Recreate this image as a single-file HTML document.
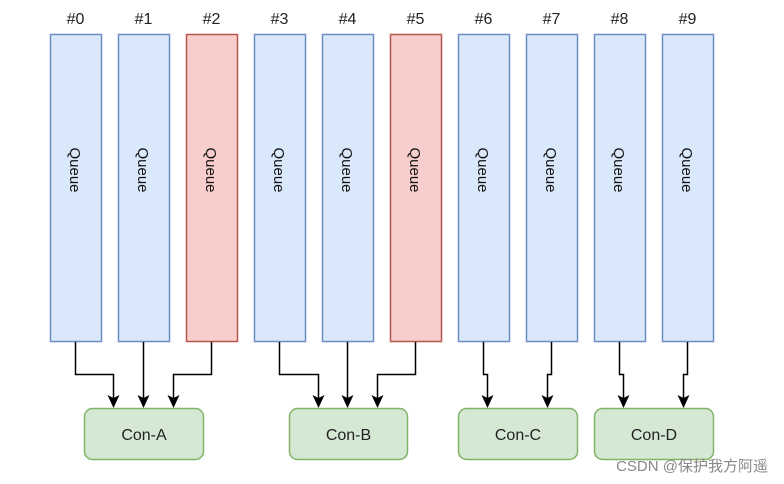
<html><head><style>body{margin:0;background:#fff}</style></head><body>
<svg width="784" height="484" xmlns="http://www.w3.org/2000/svg" font-family="Liberation Sans, sans-serif">
<g font-size="16" text-anchor="middle" fill="#222">
<text x="75.5" y="24">#0</text><text x="143.5" y="24">#1</text><text x="211.5" y="24">#2</text><text x="279.5" y="24">#3</text><text x="347.5" y="24">#4</text><text x="415.5" y="24">#5</text><text x="483.5" y="24">#6</text><text x="551.5" y="24">#7</text><text x="619.5" y="24">#8</text><text x="687.5" y="24">#9</text>
</g>
<g stroke-width="1.5">
<rect x="50.5" y="34.5" width="51" height="307" fill="#dae8fc" stroke="#6c8ebf"/>
<rect x="118.5" y="34.5" width="51" height="307" fill="#dae8fc" stroke="#6c8ebf"/>
<rect x="186.5" y="34.5" width="51" height="307" fill="#f8cecc" stroke="#b85450"/>
<rect x="254.5" y="34.5" width="51" height="307" fill="#dae8fc" stroke="#6c8ebf"/>
<rect x="322.5" y="34.5" width="51" height="307" fill="#dae8fc" stroke="#6c8ebf"/>
<rect x="390.5" y="34.5" width="51" height="307" fill="#f8cecc" stroke="#b85450"/>
<rect x="458.5" y="34.5" width="51" height="307" fill="#dae8fc" stroke="#6c8ebf"/>
<rect x="526.5" y="34.5" width="51" height="307" fill="#dae8fc" stroke="#6c8ebf"/>
<rect x="594.5" y="34.5" width="51" height="307" fill="#dae8fc" stroke="#6c8ebf"/>
<rect x="662.5" y="34.5" width="51" height="307" fill="#dae8fc" stroke="#6c8ebf"/>
</g>
<g font-size="15" fill="#111" text-anchor="middle">
<text transform="translate(70,170) rotate(90)">Queue</text>
<text transform="translate(138,170) rotate(90)">Queue</text>
<text transform="translate(206,170) rotate(90)">Queue</text>
<text transform="translate(274,170) rotate(90)">Queue</text>
<text transform="translate(342,170) rotate(90)">Queue</text>
<text transform="translate(410,170) rotate(90)">Queue</text>
<text transform="translate(478,170) rotate(90)">Queue</text>
<text transform="translate(546,170) rotate(90)">Queue</text>
<text transform="translate(614,170) rotate(90)">Queue</text>
<text transform="translate(682,170) rotate(90)">Queue</text>
</g>
<g stroke="#000" stroke-width="1.5" fill="none">
<path d="M75.5,342 V374.5 H113.5 V398"/>
<path d="M143.5,342 V398"/>
<path d="M211.5,342 V374.5 H173.5 V398"/>
<path d="M279.5,342 V374.5 H318.5 V398"/>
<path d="M347.5,342 V398"/>
<path d="M415.5,342 V374.5 H377.5 V398"/>
<path d="M483.5,342 V374.5 H487.5 V398"/>
<path d="M551.5,342 V374.5 H547.5 V398"/>
<path d="M619.5,342 V374.5 H623.5 V398"/>
<path d="M687.5,342 V374.5 H683.5 V398"/>
</g>
<g fill="#000">
<path d="M107.5,395 L113.5,408 L119.5,395 L113.5,398Z"/>
<path d="M137.5,395 L143.5,408 L149.5,395 L143.5,398Z"/>
<path d="M167.5,395 L173.5,408 L179.5,395 L173.5,398Z"/>
<path d="M312.5,395 L318.5,408 L324.5,395 L318.5,398Z"/>
<path d="M341.5,395 L347.5,408 L353.5,395 L347.5,398Z"/>
<path d="M371.5,395 L377.5,408 L383.5,395 L377.5,398Z"/>
<path d="M481.5,395 L487.5,408 L493.5,395 L487.5,398Z"/>
<path d="M541.5,395 L547.5,408 L553.5,395 L547.5,398Z"/>
<path d="M617.5,395 L623.5,408 L629.5,395 L623.5,398Z"/>
<path d="M677.5,395 L683.5,408 L689.5,395 L683.5,398Z"/>
</g>
<g fill="#d5e8d4" stroke="#82b366" stroke-width="1.5">
<rect x="84.5" y="408.5" width="119" height="51" rx="8"/>
<rect x="289.5" y="408.5" width="118" height="51" rx="8"/>
<rect x="458.5" y="408.5" width="119" height="51" rx="8"/>
<rect x="594.5" y="408.5" width="119" height="51" rx="8"/>
</g>
<g font-size="16" text-anchor="middle" fill="#222">
<text x="144" y="440">Con-A</text><text x="348.5" y="440">Con-B</text><text x="518" y="440">Con-C</text><text x="654" y="440">Con-D</text>
</g>
<text x="768" y="471" font-size="15" text-anchor="end" fill="#888" font-family="Liberation Sans, Noto Sans CJK SC, sans-serif">CSDN @保护我方阿遥</text>
</svg>
</body></html>
